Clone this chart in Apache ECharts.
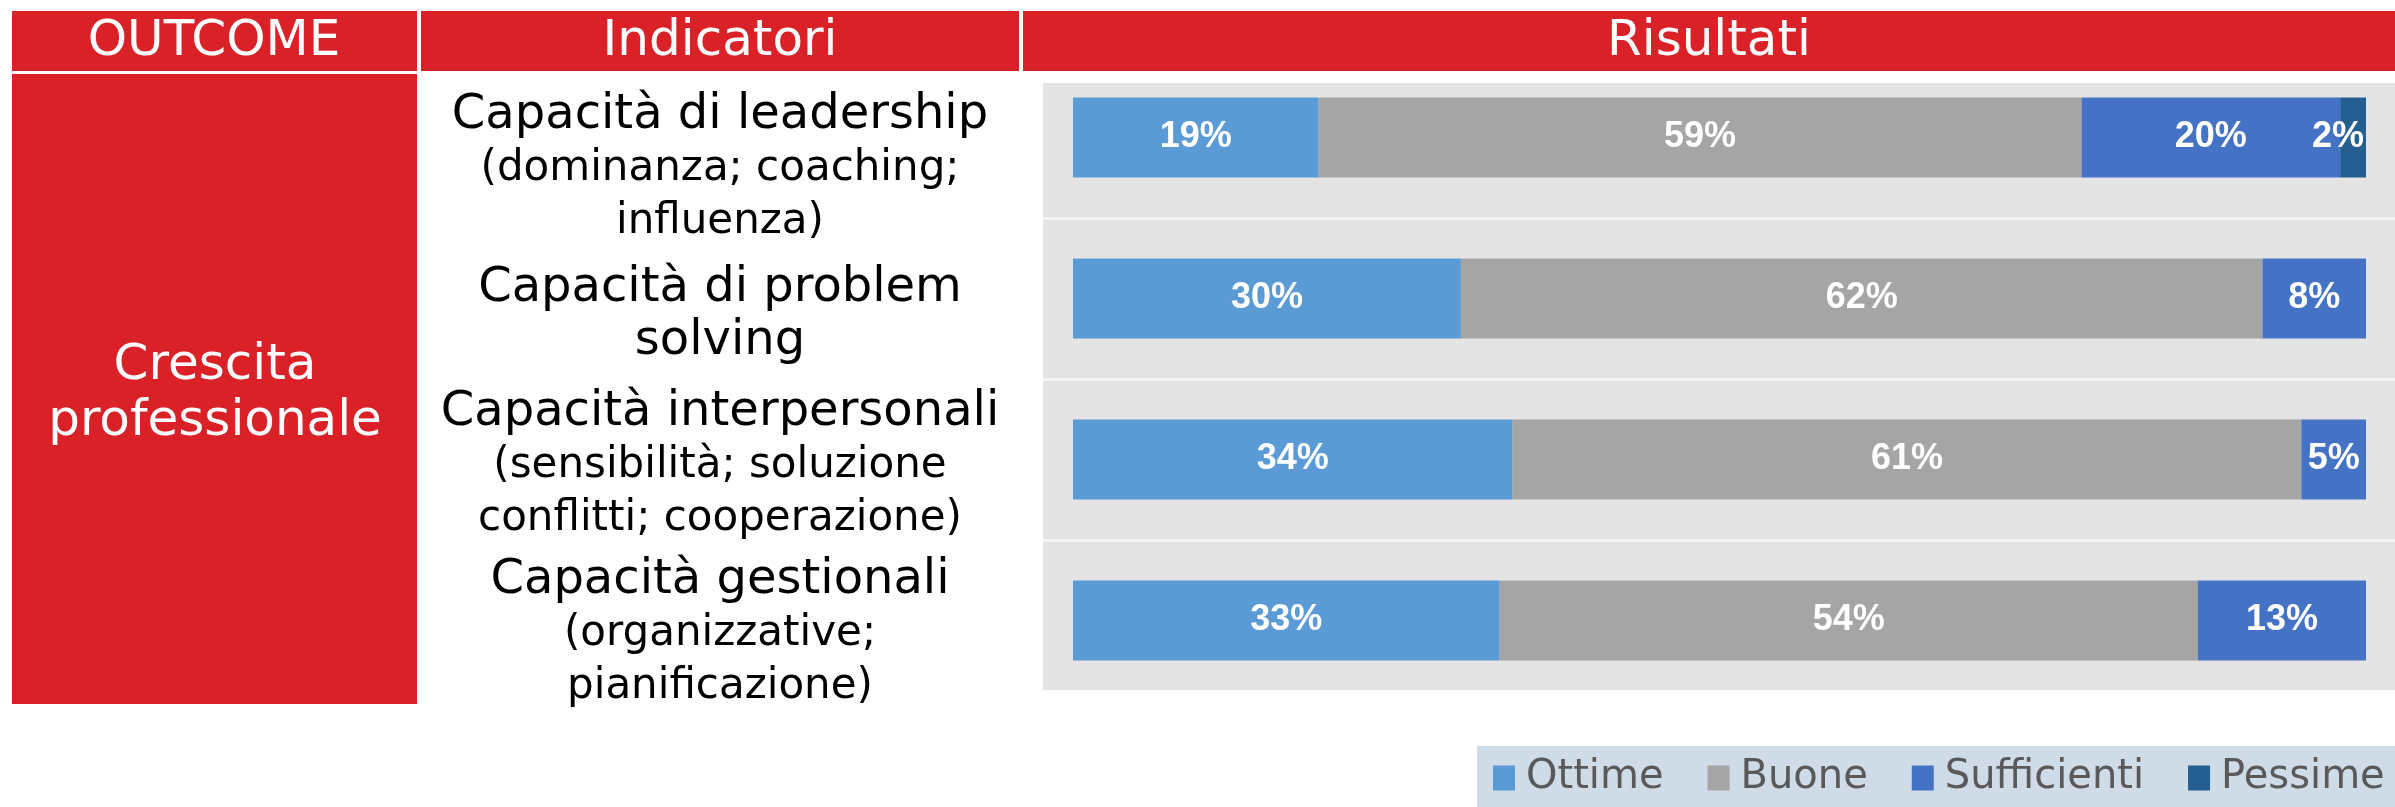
<!DOCTYPE html>
<html>
<head>
<meta charset="utf-8">
<script src="https://cdn.jsdelivr.net/npm/echarts@6/dist/echarts.min.js"></script>
<style>
html,body{margin:0;padding:0;background:#fff;}
#chart{width:2395px;height:807px;}
</style>
</head>
<body>
<div id="chart"></div>
<script>
// ---- data ----
const headers = ['OUTCOME', 'Indicatori', 'Risultati'];
const outcome = 'Crescita\nprofessionale';
const categories = [
  'Capacità di leadership\n(dominanza; coaching;\ninfluenza)',
  'Capacità di problem\nsolving',
  'Capacità interpersonali\n(sensibilità; soluzione\nconflitti; cooperazione)',
  'Capacità gestionali\n(organizzative;\npianificazione)'
];
const seriesNames = ['Ottime', 'Buone', 'Sufficienti', 'Pessime'];
const ottime = [19, 30, 34, 33];
const buone = [59, 62, 61, 54];
const sufficienti = [20, 8, 5, 13];
const pessime = [2, 0, 0, 0];

// ---- styles ----
const RED = '#DA2128';
const colors = ['#5B9BD5', '#A5A5A5', '#4472C4', '#255E91'];
const indicatorCenters = [169, 315, 466, 634];

function richLines(text) {
  const lines = text.split('\n');
  let sub = false;
  return lines.map(l => {
    if (l.startsWith('(')) sub = true;
    return (sub ? '{s|' : '{t|') + l + '}';
  }).join('\n');
}

const headFont = '50px "DejaVu Sans"';
const graphic = [
  // header cells
  {type: 'rect', shape: {x: 12, y: 11, width: 405, height: 60}, style: {fill: RED}, z: -2},
  {type: 'rect', shape: {x: 421, y: 11, width: 598, height: 60}, style: {fill: RED}, z: -2},
  {type: 'rect', shape: {x: 1023, y: 11, width: 1372, height: 60}, style: {fill: RED}, z: -2},
  // outcome column
  {type: 'rect', shape: {x: 12, y: 74, width: 405, height: 630}, style: {fill: RED}, z: -2},
  // chart background
  {type: 'rect', shape: {x: 1043, y: 83, width: 1352, height: 607}, style: {fill: '#E4E4E4'}, z: -2},
  {type: 'text', x: 214, y: 42, style: {text: headers[0], fill: '#fff', font: headFont, align: 'center', verticalAlign: 'middle'}},
  {type: 'text', x: 720, y: 42, style: {text: headers[1], fill: '#fff', font: headFont, align: 'center', verticalAlign: 'middle'}},
  {type: 'text', x: 1709, y: 42, style: {text: headers[2], fill: '#fff', font: headFont, align: 'center', verticalAlign: 'middle'}},
  {type: 'text', x: 215, y: 394, style: {text: outcome, fill: '#fff', font: '50px "DejaVu Sans"', lineHeight: 56, align: 'center', verticalAlign: 'middle'}}
];
categories.forEach((c, i) => {
  graphic.push({
    type: 'text', x: 720, y: indicatorCenters[i],
    style: {
      text: richLines(c), align: 'center', verticalAlign: 'middle', fill: '#000',
      rich: {
        t: {fontSize: 48, fontFamily: 'DejaVu Sans', lineHeight: 53, fill: '#000'},
        s: {fontSize: 42, fontFamily: 'DejaVu Sans', lineHeight: 53, fill: '#000'}
      }
    }
  });
});

const values = [ottime, buone, sufficienti, pessime];
const series = seriesNames.map((name, k) => ({
  name: name,
  type: 'bar',
  stack: 'total',
  xAxisIndex: 0,
  yAxisIndex: 0,
  barWidth: 80,
  itemStyle: {color: colors[k]},
  label: {
    show: true,
    position: 'inside',
    color: '#fff',
    fontFamily: 'Liberation Sans',
    fontWeight: 'bold',
    fontSize: 36,
    formatter: p => (p.value > 0 ? p.value + '%' : '')
  },
  data: values[k].map(v => (v > 0 && v < 4 ? {value: v, label: {offset: [-15, 0]}} : v))
}));

const chart = echarts.init(document.getElementById('chart'), null, {renderer: 'canvas'});
chart.setOption({
  animation: false,
  backgroundColor: '#fff',
  graphic: graphic,
  legend: {
    data: seriesNames,
    left: 1477,
    top: 746,
    width: 1200,
    backgroundColor: '#CFDBE7',
    padding: [12, 24, 12, 16],
    icon: 'rect',
    itemWidth: 22,
    itemHeight: 25,
    itemGap: 44,
    selectedMode: false,
    textStyle: {fontFamily: 'DejaVu Sans', fontSize: 40, color: '#595959', padding: [0, 0, 0, 6]}
  },
  grid: [
    {left: 1073, right: 29, top: 57, height: 644, containLabel: false},
    {left: 1043, right: 0, top: 57, height: 644, containLabel: false}
  ],
  xAxis: [
    {type: 'value', gridIndex: 0, min: 0, max: 100, show: false},
    {type: 'value', gridIndex: 1, min: 0, max: 100, show: false}
  ],
  yAxis: [
    {type: 'category', gridIndex: 0, data: categories, inverse: true, show: false},
    {type: 'category', gridIndex: 1, data: categories, inverse: true,
     axisLine: {show: false}, axisTick: {show: false}, axisLabel: {show: false},
     splitLine: {show: true, showMinLine: false, showMaxLine: false, lineStyle: {color: '#F3F3F3', width: 3}}}
  ],
  series: series
});
</script>
</body>
</html>
